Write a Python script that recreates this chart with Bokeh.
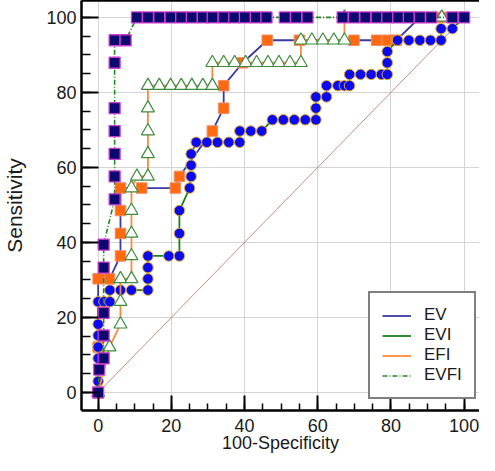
from bokeh.plotting import figure
from bokeh.models import (LinearAxis, FixedTicker, SingleIntervalTicker, Legend, LegendItem)
from bokeh.embed import file_html
from bokeh.resources import INLINE

# ---------------- data ----------------
series_names = ["EV", "EVI", "EFI", "EVFI"]

ev_x = [0, 0, 0, 3.1, 6.1, 6.1, 6.1, 6.1, 11.9, 21.1, 22.2, 31.2, 34.3, 34.3, 39.5,
        46.2, 55.0, 69.9, 76.1, 79.0, 81.5, 87.9, 93.7]
ev_y = [0, 12.1, 30.3, 30.3, 36.4, 42.4, 48.5, 54.5, 54.5, 54.5, 57.6, 69.7, 75.8, 81.8, 87.9,
        93.9, 93.9, 93.9, 93.9, 93.9, 93.9, 100, 100]

evi_x = [0, 0, 0, 0, 0, 0, 0, 1.6, 3.2, 3.2, 6.1, 9.1, 13.6, 13.6, 13.6, 13.6,
         19.3, 22.2, 22.2, 22.2, 25.0, 25.4, 25.4, 25.4, 26.8, 29.7, 32.6, 35.7, 38.7,
         38.7, 41.7, 44.7, 47.6, 50.6, 53.6, 56.6, 59.5, 59.5, 59.5, 62.4, 62.4, 65.5,
         67.3, 68.7, 68.7, 71.7, 74.6, 77.4, 79.0, 79.0, 79.0, 81.8, 84.9, 87.9, 90.8,
         93.7, 93.7, 96.8, 100]
evi_y = [0, 3.0, 9.1, 12.1, 15.2, 18.2, 24.2, 24.2, 24.2, 27.3, 27.3, 27.3, 27.3, 30.3, 33.3, 36.4,
         36.4, 36.4, 42.4, 48.5, 54.5, 57.6, 60.6, 63.6, 66.7, 66.7, 66.7, 66.7, 66.7,
         69.7, 69.7, 69.7, 72.7, 72.7, 72.7, 72.7, 72.7, 75.8, 78.8, 78.8, 81.8, 81.8,
         81.8, 81.8, 84.8, 84.8, 84.8, 84.8, 84.8, 87.9, 90.9, 93.9, 93.9, 93.9, 93.9,
         93.9, 97.0, 97.0, 100]

efi_x = [0, 3.1, 6.1, 6.1, 6.1, 9.1, 9.1, 9.1, 9.1, 9.1, 10.6, 13.6, 13.6, 13.6, 13.6, 13.6,
         16.7, 19.8, 22.7, 25.6, 28.6, 31.2, 31.2, 34.3, 37.3, 40.3, 43.3, 46.4, 49.4, 52.4,
         55.4, 55.4, 58.4, 61.4, 64.4, 67.3, 67.3, 93.9]
efi_y = [0, 12.1, 18.2, 24.2, 30.3, 30.3, 36.4, 42.4, 48.5, 54.5, 57.6, 57.6, 63.6, 69.7, 75.8, 81.8,
         81.8, 81.8, 81.8, 81.8, 81.8, 81.8, 87.9, 87.9, 87.9, 87.9, 87.9, 87.9, 87.9, 87.9,
         87.9, 93.9, 93.9, 93.9, 93.9, 93.9, 100, 100]

evfi_x = [0, 0.3, 1.5, 1.5, 1.5, 1.5, 1.5, 4.5, 4.5, 4.5, 4.5, 4.5, 4.5, 4.5, 7.5,
          10.6, 13.6, 16.7, 19.8, 22.7, 25.6, 28.6, 31.3, 34.3, 37.2, 40.1, 43.1, 46.0,
          51.0, 54.1, 57.2, 66.8, 69.9, 73.0, 76.1, 79.0, 82.0, 84.9, 87.9, 91.0, 96.8, 100]
evfi_y = [0, 6.1, 9.1, 15.2, 21.2, 33.3, 39.4, 51.5, 57.6, 63.6, 69.7, 75.8, 87.9, 93.9, 93.9,
          100, 100, 100, 100, 100, 100, 100, 100, 100, 100, 100, 100, 100,
          100, 100, 100, 100, 100, 100, 100, 100, 100, 100, 100, 100, 100, 100]

ref_x = [0, 100]
ref_y = [0, 100]

x_title = "100-Specificity"
y_title = "Sensitivity"

FONT = "Liberation Sans"

p = figure(width=479, height=455, x_range=(-4.55, 104.2), y_range=(-4.8, 104.5),
           output_backend="svg", toolbar_location=None, min_border=0,
           min_border_left=75, min_border_right=0, min_border_top=0, min_border_bottom=43)
p.outline_line_color = None
p.background_fill_color = "white"

xt = SingleIntervalTicker(interval=20, num_minor_ticks=4)
yt = SingleIntervalTicker(interval=20, num_minor_ticks=4)
p.xaxis.ticker = xt
p.yaxis.ticker = yt
p.xgrid.ticker = xt
p.ygrid.ticker = yt
for g in (p.xgrid, p.ygrid):
    g.grid_line_color = "#d4d4d4"
    g.grid_line_width = 1

for ax in (p.xaxis, p.yaxis):
    ax.axis_line_width = 2.5
    ax.axis_line_color = "black"
    ax.major_tick_line_width = 2
    ax.minor_tick_line_width = 1.5
    ax.major_tick_out = 0
    ax.minor_tick_out = 0
    ax.major_label_text_font = FONT
    ax.major_label_text_font_size = "18px"
    ax.major_label_text_color = "#1a1a1a"
    ax.major_label_text_line_height = 1.0
    ax.axis_label_text_font = FONT
    ax.axis_label_text_font_style = "normal"
    ax.axis_label_text_color = "#1a1a1a"
    ax.axis_label_text_line_height = 1.0

p.xaxis.major_tick_in = 15
p.xaxis.minor_tick_in = 7
p.yaxis.major_tick_in = 17
p.yaxis.minor_tick_in = 9
p.xaxis.major_label_standoff = 8
p.yaxis.major_label_standoff = 5
p.xaxis.axis_label = x_title
p.yaxis.axis_label = y_title
p.xaxis.axis_label_text_font_size = "18px"
p.yaxis.axis_label_text_font_size = "21px"
p.xaxis.axis_label_standoff = -2
p.yaxis.axis_label_standoff = 17

top = LinearAxis(ticker=FixedTicker(ticks=[]), axis_line_width=2.5, axis_line_color="black",
                 major_tick_in=0, major_tick_out=0, minor_tick_in=0, minor_tick_out=0,
                 major_label_text_font_size="0px")
p.add_layout(top, "above")

# reference diagonal
p.line(ref_x, ref_y, line_color="#c48c8c", line_width=1)

# EV
ev_line = p.line(ev_x, ev_y, line_color="#3a3aa0", line_width=1.8)
p.scatter(ev_x, ev_y, marker="square", size=10.5, fill_color="#ff6a10",
          line_color="#ef8e68", line_width=1)
# EVI
evi_line = p.line(evi_x, evi_y, line_color="#1f7f1f", line_width=1.8)
p.scatter(evi_x, evi_y, marker="circle", size=10.5, fill_color="#0a0af0",
          line_color="#e6ac2c", line_width=1)
# EFI
efi_line = p.line(efi_x, efi_y, line_color="#ff8a3c", line_width=1.8)
p.scatter(efi_x, efi_y, marker="triangle", size=13, fill_color="white",
          line_color="#3d8c3d", line_width=1.2)
# EVFI
evfi_line = p.line(evfi_x, evfi_y, line_color="#238823", line_width=1.6, line_dash="5 2 1 2")
p.scatter(evfi_x, evfi_y, marker="square", size=11, fill_color="#0b0870",
          line_color="#d03cd0", line_width=1.3)

legend = Legend(items=[LegendItem(label=series_names[0], renderers=[ev_line]),
                       LegendItem(label=series_names[1], renderers=[evi_line]),
                       LegendItem(label=series_names[2], renderers=[efi_line]),
                       LegendItem(label=series_names[3], renderers=[evfi_line])],
                location=(287, 11))
legend.label_text_font = FONT
legend.label_text_font_size = "17px"
legend.label_text_color = "#1a1a1a"
legend.border_line_color = "black"
legend.border_line_width = 2
legend.background_fill_color = "white"
legend.background_fill_alpha = 1
legend.padding = 12
legend.spacing = 0
legend.margin = 0
legend.glyph_width = 29
legend.glyph_height = 19
legend.label_height = 19
legend.label_standoff = 13
p.add_layout(legend)

open("out.html", "w").write(file_html(p, INLINE))
